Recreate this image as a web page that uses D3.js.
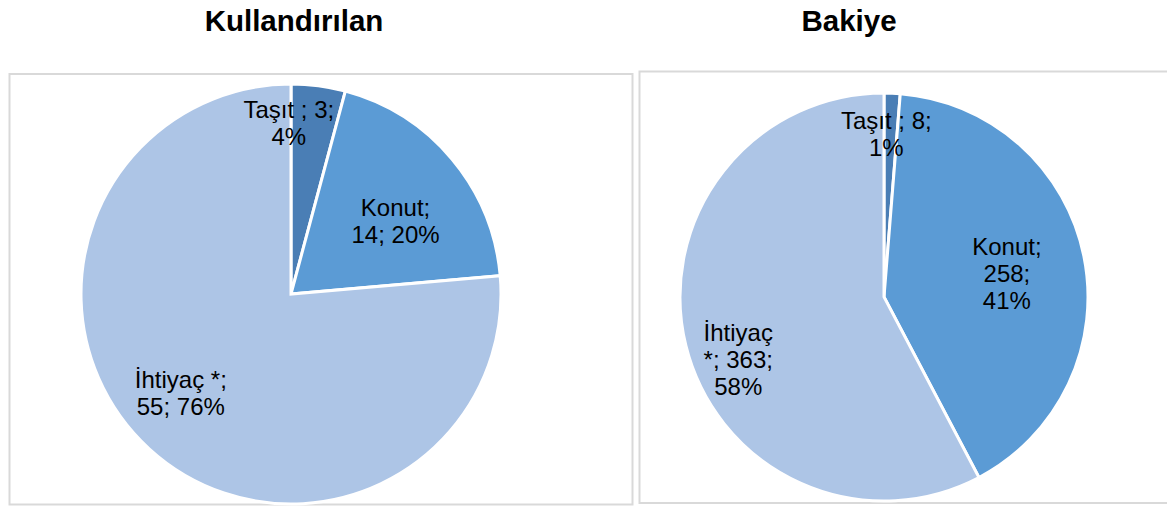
<!DOCTYPE html>
<html>
<head>
<meta charset="utf-8">
<script src="https://cdn.jsdelivr.net/npm/d3@7"></script>
<style>
    body { margin: 0; background: #fff; }
    svg text { font-family: Arial, "Liberation Sans", sans-serif; fill: #000; }
</style>
</head>
<body>
<div id="chart"></div>
<script>

// slice categories, in clockwise order from 12 o'clock
const categories = ['Taşıt', 'Konut', 'İhtiyaç'];

// Kullandırılan
const usedValues = [3, 14, 55];
const usedPercents = [4, 20, 76];

// Bakiye
const balanceValues = [8, 258, 363];
const balancePercents = [1, 41, 58];

const colors = ['#4a7eb5', '#5b9bd5', '#adc5e6'];

let width = 1167,
    height = 506;

let svg = d3.select('#chart').append('svg')
    .attr('width', width)
    .attr('height', height);

function drawPie(cfg) {

    // panel border
    svg.append('rect')
        .attr('x', cfg.box[0])
        .attr('y', cfg.box[1])
        .attr('width', cfg.box[2])
        .attr('height', cfg.box[3])
        .attr('fill', 'white')
        .attr('stroke', '#d9d9d9')
        .attr('stroke-width', 2);

    // title
    svg.append('text')
        .attr('x', cfg.titleX)
        .attr('y', 31)
        .attr('text-anchor', 'middle')
        .style('font-size', '29.5px')
        .style('font-weight', 'bold')
        .text(cfg.title);

    let g = svg.append('g')
        .attr('transform', `translate(${cfg.cx}, ${cfg.cy})`);

    let pie = d3.pie().sort(null).value(d => d)(cfg.values);

    let arc = d3.arc().innerRadius(0).outerRadius(cfg.r);

    g.selectAll('path')
        .data(pie)
        .enter()
        .append('path')
        .attr('d', arc)
        .attr('fill', (d, i) => colors[i])
        .attr('stroke', 'white')
        .attr('stroke-width', 3)
        .attr('stroke-linejoin', 'miter');

    // data labels: placed on the slice centroid then nudged like excel's best fit
    let labelArc = d3.arc().innerRadius(0).outerRadius(cfg.r * 1.3);

    pie.forEach(function(d, i) {
        let c = labelArc.centroid(d);
        let x = c[0] + cfg.nudge[i][0],
            y = c[1] + cfg.nudge[i][1];
        let lines = cfg.lines[i];
        let t = g.append('text')
            .attr('text-anchor', 'middle')
            .style('font-size', '24px');
        lines.forEach(function(line, j) {
            t.append('tspan')
                .attr('x', x)
                .attr('y', y + (j - (lines.length - 1) / 2) * 27 + 8)
                .text(line);
        });
    });
}

drawPie({
    title: 'Kullandırılan',
    titleX: 294,
    box: [9.5, 74, 623, 430.5],
    cx: 291, cy: 294, r: 210,
    values: usedValues,
    lines: [
        [`${categories[0]} ; ${usedValues[0]};`, `${usedPercents[0]}%`],
        [`${categories[1]};`, `${usedValues[1]}; ${usedPercents[1]}%`],
        [`${categories[2]} *;`, `${usedValues[2]}; ${usedPercents[2]}%`]
    ],
    nudge: [[-20, -35], [0, 15], [-18, -1]]
});

drawPie({
    title: 'Bakiye',
    titleX: 849,
    box: [639.5, 71.5, 540, 431.5],
    cx: 884, cy: 297, r: 204,
    values: balanceValues,
    lines: [
        [`${categories[0]} ; ${balanceValues[0]};`, `${balancePercents[0]}%`],
        [`${categories[1]};`, `${balanceValues[1]};`, `${balancePercents[1]}%`],
        [`${categories[2]}`, `*; ${balanceValues[2]};`, `${balancePercents[2]}%`]
    ],
    nudge: [[-3, -30], [-7, 4], [-17, 31]]
});

</script>
</body>
</html>
